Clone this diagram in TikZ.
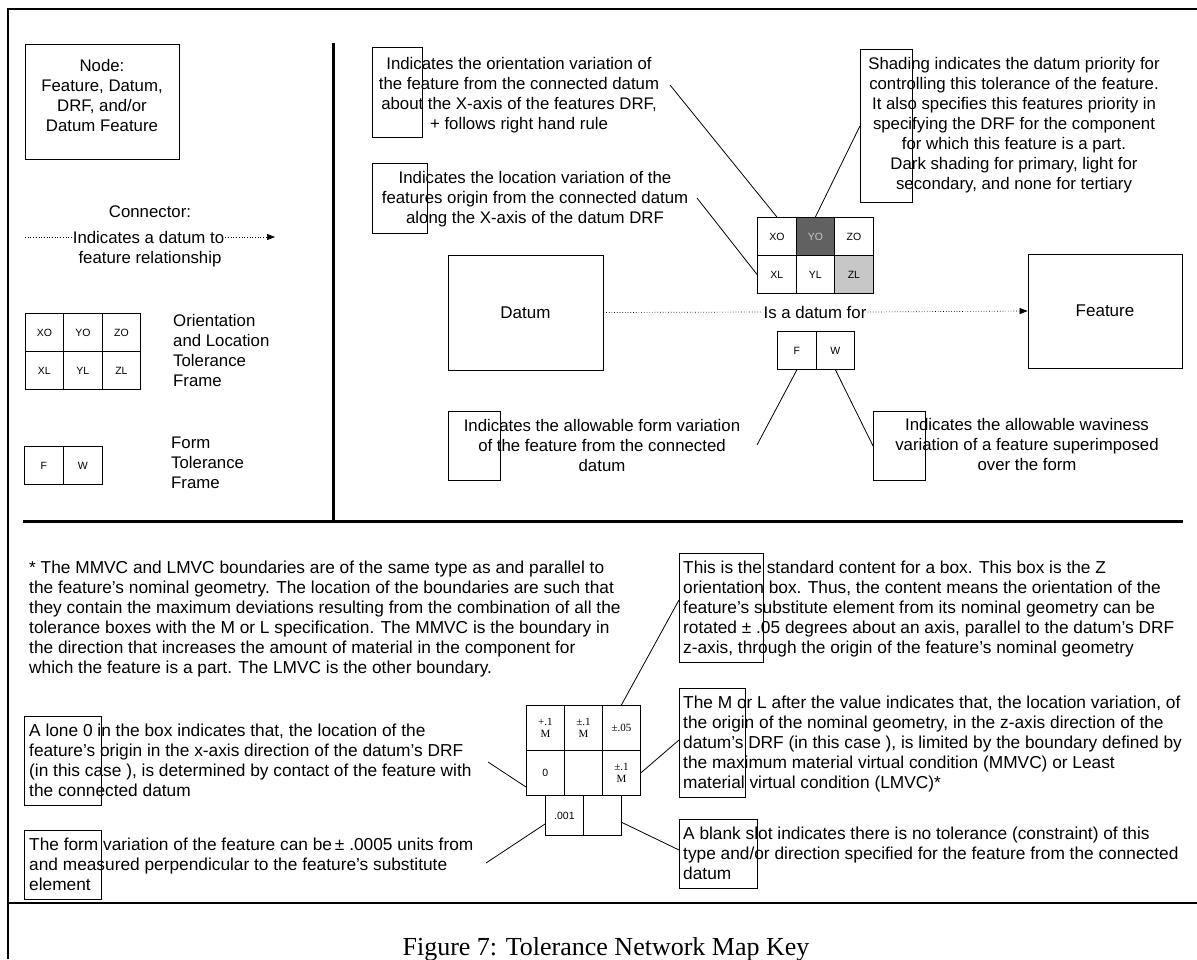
\documentclass[tikz,border=0pt]{standalone}
\usepackage{fontspec}
\setmainfont{Liberation Sans}
\newfontfamily\capfont{Liberation Serif}
\usetikzlibrary{arrows.meta}
\begin{document}
\begin{tikzpicture}[x=1pt,y=-1pt,
  txt/.style={font=\fontsize{16.8}{20}\selectfont, inner sep=0pt},
  btxt/.style={font=\fontsize{17.3}{20}\selectfont, inner sep=0pt, align=left, anchor=north west},
  ctxt/.style={txt, align=center, anchor=north},
  ltxt/.style={txt, align=left, anchor=north west},
  tbox/.style={draw, line width=0.8pt, anchor=north west, inner sep=0pt},
  cell/.style={draw, line width=0.8pt, anchor=north west, inner sep=0pt, font=\fontsize{10.5}{12}\selectfont},
  vcell/.style={draw, line width=0.8pt, anchor=north west, inner sep=0pt, align=center, font=\capfont\fontsize{11}{12}\selectfont},
  lead/.style={line width=0.8pt},
  conn/.style={dotted, line width=0.7pt},
  arr/.style={-{Triangle[length=8pt,width=6pt]}},
  heavy/.style={line width=3pt},
  rule/.style={line width=1.2pt}
]
\useasboundingbox (0,0) rectangle (1197,959);

% frame lines
\coordinate (fTL) at (8,9);
\coordinate (fTR) at (1197,9);
\coordinate (fBL) at (8,959);
\draw[rule] (fBL) -- (fTL) -- (fTR);
\coordinate (hL) at (23,521);
\coordinate (hR) at (1183,521);
\draw[heavy] (hL) -- (hR);
\coordinate (vT) at (333,43);
\coordinate (vB) at (333,521);
\draw[heavy] (vT) -- (vB);
\coordinate (bL) at (8,903);
\coordinate (bR) at (1197,903);
\draw[rule] (bL) -- (bR);

% ---------------- legend ----------------
\node[tbox, minimum width=154pt, minimum height=115pt] (nodebox) at (25,44) {};
\node[ctxt] (nodetxt) at (102,59) {Node:\\Feature, Datum,\\DRF, and/or\\Datum Feature};

\node[txt] (conn1) at (150,212) {Connector:};
\node[txt, inner xsep=1pt] (conn2) at (148.5,237) {Indicates a datum to};
\node[txt] (conn3) at (150,259) {feature relationship};
\coordinate (cs) at (25,237);
\coordinate (ce) at (275,237);
\draw[conn] (cs) -- (conn2.west);
\draw[conn, arr] (conn2.east) -- (ce);

\node[cell, minimum width=38pt, minimum height=38pt] (lXO) at (25,313) {XO};
\node[cell, minimum width=39pt, minimum height=38pt] (lYO) at (63,313) {YO};
\node[cell, minimum width=38pt, minimum height=38pt] (lZO) at (102,313) {ZO};
\node[cell, minimum width=38pt, minimum height=38pt] (lXL) at (25,351) {XL};
\node[cell, minimum width=39pt, minimum height=38pt] (lYL) at (63,351) {YL};
\node[cell, minimum width=38pt, minimum height=38pt] (lZL) at (102,351) {ZL};
\node[ltxt] (oltxt) at (173,314) {Orientation\\and Location\\Tolerance\\Frame};

\node[cell, minimum width=39pt, minimum height=38pt] (lF) at (24,446) {F};
\node[cell, minimum width=39pt, minimum height=38pt] (lW) at (63,446) {W};
\node[ltxt] (fttxt) at (171,437) {Form\\Tolerance\\Frame};

% ---------------- top right ----------------
\node[tbox, minimum width=50pt, minimum height=90pt] (r1) at (372,47) {};
\node[ctxt] (t1) at (519,57) {Indicates the orientation variation of\\the feature from the connected datum\\about the X-axis of the features DRF,\\+ follows right hand rule};
\node[tbox, minimum width=55pt, minimum height=70pt] (r2) at (372,163) {};
\node[ctxt] (t2) at (535,171) {Indicates the location variation of the\\features origin from the connected datum\\along the X-axis of the datum DRF};
\node[tbox, minimum width=52pt, minimum height=153pt] (r3) at (860,49) {};
\node[ctxt] (t3) at (1014,57) {Shading indicates the datum priority for\\controlling this tolerance of the feature.\\It also specifies this features priority in\\specifying the DRF for the component\\for which this feature is a part.\\Dark shading for primary, light for\\secondary, and none for tertiary};

\node[cell, minimum width=39pt, minimum height=38pt] (bXO) at (757,217) {XO};
\node[cell, minimum width=38pt, minimum height=38pt, fill=black!62, text=black!22] (bYO) at (796,217) {YO};
\node[cell, minimum width=39pt, minimum height=38pt] (bZO) at (834,217) {ZO};
\node[cell, minimum width=39pt, minimum height=38pt] (bXL) at (757,255) {XL};
\node[cell, minimum width=38pt, minimum height=38pt] (bYL) at (796,255) {YL};
\node[cell, minimum width=39pt, minimum height=38pt, fill=black!22] (bZL) at (834,255) {ZL};

\coordinate (l1s) at (670,85);
\draw[lead] (l1s) -- (bXO.north);
\coordinate (l2s) at (697,198);
\draw[lead] (l2s) -- (bXL.west);
\draw[lead] (bYO.north) -- (r3.west);

\node[draw, line width=0.8pt, minimum width=155pt, minimum height=115pt, font=\fontsize{17}{20}\selectfont] (datum) at (525.5,312.5) {Datum};
\node[draw, line width=0.8pt, minimum width=154pt, minimum height=114pt, font=\fontsize{17}{20}\selectfont] (feature) at (1105,311) {Feature};
\node[txt, inner xsep=1pt] (isd) at (815,312) {Is a datum for};
\draw[conn] (datum.east) -- (isd.west);
\draw[conn, arr] (isd.east) -- (feature.west);

\node[cell, minimum width=39pt, minimum height=38pt] (bF) at (777,331) {F};
\node[cell, minimum width=38pt, minimum height=38pt] (bW) at (816,331) {W};

\node[tbox, minimum width=52pt, minimum height=69pt] (r4) at (448,411) {};
\node[ctxt] (t4) at (602,419) {Indicates the allowable form variation\\of the feature from the connected\\datum};
\node[tbox, minimum width=52pt, minimum height=69pt] (r5) at (873,411) {};
\node[ctxt] (t5) at (1027,418) {Indicates the allowable waviness\\variation of a feature superimposed\\over the form};
\coordinate (l4e) at (757,445);
\draw[lead] (bF.south) -- (l4e);
\draw[lead] (bW.south) -- (r5.west);

% ---------------- bottom ----------------
\node[btxt] (para) at (29,561) {* The MMVC and LMVC boundaries are of the same type as and parallel to\\the feature's nominal geometry. The location of the boundaries are such that\\they contain the maximum deviations resulting from the combination of all the\\tolerance boxes with the M or L specification. The MMVC is the boundary in\\the direction that increases the amount of material in the component for\\which the feature is a part. The LMVC is the other boundary.};

\node[tbox, minimum width=77pt, minimum height=89pt] (r6) at (24,716) {};
\node[btxt] (t6) at (29,724) {A lone 0 in the box indicates that, the location of the\\feature's origin in the x-axis direction of the datum's DRF\\(in this case ), is determined by contact of the feature with\\the connected datum};
\node[tbox, minimum width=77pt, minimum height=69pt] (r7) at (24,830) {};
\node[btxt] (t7) at (29,838) {The form variation of the feature can be\,± .0005 units from\\and measured perpendicular to the feature's substitute\\element};

\node[tbox, minimum width=84pt, minimum height=109pt] (r8) at (679,553) {};
\node[btxt] (t8) at (683,561) {This is the standard content for a box. This box is the Z\\orientation box. Thus, the content means the orientation of the\\feature's substitute element from its nominal geometry can be\\rotated ± .05 degrees about an axis, parallel to the datum's DRF\\z-axis, through the origin of the feature's nominal geometry};
\node[tbox, minimum width=66pt, minimum height=109pt] (r9) at (679,688) {};
\node[btxt] (t9) at (683,696) {The M or L after the value indicates that, the location variation, of\\the origin of the nominal geometry, in the z-axis direction of the\\datum's DRF (in this case ), is limited by the boundary defined by\\the maximum material virtual condition (MMVC) or Least\\material virtual condition (LMVC)*};
\node[tbox, minimum width=78pt, minimum height=69pt] (r10) at (679,819) {};
\node[btxt] (t10) at (683,827) {A blank slot indicates there is no tolerance (constraint) of this\\type and/or direction specified for the feature from the connected\\datum};

\node[vcell, minimum width=38pt, minimum height=45pt] (v1) at (526,705) {+.1\\M};
\node[vcell, minimum width=38pt, minimum height=45pt] (v2) at (564,705) {±.1\\M};
\node[vcell, minimum width=38pt, minimum height=45pt] (v3) at (602,705) {±.05};
\node[cell, minimum width=38pt, minimum height=45pt] (v4) at (526,750) {0};
\node[vcell, minimum width=38pt, minimum height=45pt] (v5) at (564,750) {};
\node[vcell, minimum width=38pt, minimum height=45pt] (v6) at (602,750) {±.1\\M};
\node[cell, minimum width=38pt, minimum height=40pt] (v7) at (545,795) {.001};
\node[cell, minimum width=38pt, minimum height=40pt] (v8) at (583,795) {};

\coordinate (l6s) at (488,762);
\coordinate (l6e) at (526,787);
\draw[lead] (l6s) -- (l6e);
\coordinate (l7s) at (486,863);
\coordinate (l7e) at (545,824);
\draw[lead] (l7s) -- (l7e);
\coordinate (l8e) at (679,600);
\draw[lead] (v3.north) -- (l8e);
\coordinate (l9e) at (679,740);
\draw[lead] (v6.east) -- (l9e);
\coordinate (l10s) at (621,822);
\coordinate (l10e) at (679,850);
\draw[lead] (l10s) -- (l10e);

\node[font=\capfont\fontsize{26}{30}\selectfont, anchor=base, inner sep=0pt] (cap) at (606,955) {Figure 7: Tolerance Network Map Key};
\end{tikzpicture}
\end{document}
